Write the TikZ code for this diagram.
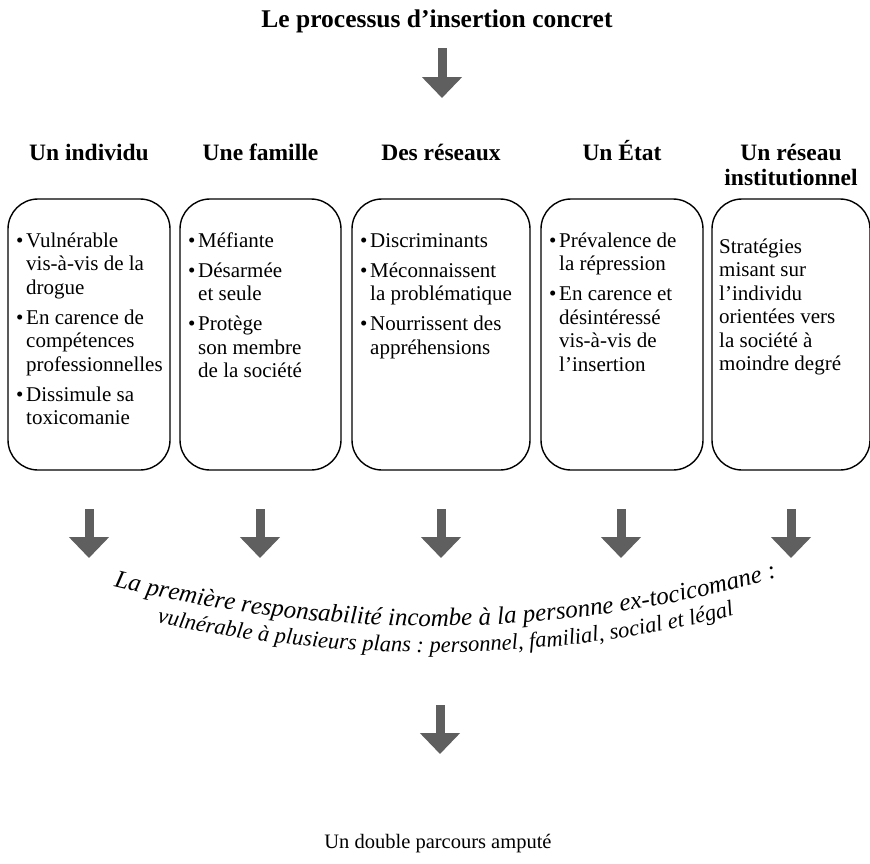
\documentclass[tikz,border=0pt]{standalone}
\usepackage{fontspec}
\setmainfont{Liberation Serif}
\usetikzlibrary{arrows.meta,decorations.text}
\definecolor{arrowgray}{HTML}{5F5F5F}
\newcommand{\bul}{\makebox[10pt][l]{\textbullet}}
\newcommand{\ind}{\hspace*{10pt}}
\tikzset{
  bigarrow/.style={draw=arrowgray, line width=9pt, -{Triangle[width=39pt,length=21pt,fill=arrowgray]}},
  roundbox/.style={draw, line width=1.4pt, rounded corners=30pt, minimum height=271pt, inner sep=0pt},
  boxtext/.style={anchor=north west, align=left, inner sep=0pt, font=\fontsize{21}{23.5}\selectfont},
  header/.style={anchor=base, align=center, inner sep=0pt, font=\bfseries\fontsize{23.5}{25}\selectfont},
}
\begin{document}
\begin{tikzpicture}[x=1pt,y=-1pt]
\useasboundingbox (0,0) rectangle (870,863);

% title
\node[anchor=base, inner sep=0pt, font=\bfseries\fontsize{25.5}{27}\selectfont] (title) at (437,27) {Le processus d’insertion concret};
\coordinate (t0) at (442,48);
\coordinate (t1) at (442,98);
\draw[bigarrow] (t0) -- (t1);

% headers
\node[header] (h1) at (89,160) {Un individu};
\node[header] (h2) at (260.5,160) {Une famille};
\node[header] (h3) at (441,160) {Des réseaux};
\node[header] (h4) at (622,160) {Un État};
\node[header] (h5) at (791,185) {Un réseau\\institutionnel};

% boxes
\node[roundbox, minimum width=162pt] (b1) at (89,334.5) {};
\node[roundbox, minimum width=161pt] (b2) at (260.5,334.5) {};
\node[roundbox, minimum width=178pt] (b3) at (441,334.5) {};
\node[roundbox, minimum width=162pt] (b4) at (622,334.5) {};
\node[roundbox, minimum width=158pt] (b5) at (791,334.5) {};

\node[boxtext] (x1) at (16,232) {\rule{0pt}{15pt}\bul Vulnérable\\ \ind vis-à-vis de la\\ \ind drogue\\[6.5pt]
\bul En carence de\\ \ind compétences\\ \ind professionnelles\\[6.5pt]
\bul Dissimule sa\\ \ind toxicomanie};
\node[boxtext] (x2) at (188,232) {\rule{0pt}{15pt}\bul Méfiante\\[6.5pt]
\bul Désarmée\\ \ind et seule\\[6.5pt]
\bul Protège\\ \ind son membre\\ \ind de la société};
\node[boxtext] (x3) at (360,232) {\rule{0pt}{15pt}\bul Discriminants\\[6.5pt]
\bul Méconnaissent\\ \ind la problématique\\[6.5pt]
\bul Nourrissent des\\ \ind appréhensions};
\node[boxtext] (x4) at (549,232) {\rule{0pt}{15pt}\bul Prévalence de\\ \ind la répression\\[6.5pt]
\bul En carence et\\ \ind désintéressé\\ \ind vis-à-vis de\\ \ind l’insertion};
\node[boxtext] (x5) at (719,238) {\rule{0pt}{15pt}Stratégies\\ misant sur\\ l’individu\\ orientées vers\\ la société à\\ moindre degré};

% arrows row
\foreach \i/\xx in {1/89,2/260,3/441,4/621,5/791}{
  \coordinate (r\i s) at (\xx,509);
  \coordinate (r\i e) at (\xx,558);
  \draw[bigarrow] (r\i s) -- (r\i e);
}

% curved text
\coordinate (c1a) at (88,580);
\coordinate (c1b) at (802,570);
\coordinate (c2a) at (90,607);
\coordinate (c2b) at (800,597);
\path[decorate, decoration={text along path, text align=center,
  text={|\itshape\fontsize{25}{25}\selectfont|La première responsabilité incombe à la personne ex-tocicomane :}}]
  (c1a) .. controls (326,643) and (564,643) .. (c1b);
\path[decorate, decoration={text along path, text align=center,
  text={|\itshape\fontsize{22.5}{24}\selectfont|vulnérable à plusieurs plans : personnel, familial, social et légal}}]
  (c2a) .. controls (327,669) and (563,669) .. (c2b);

% bottom
\coordinate (u0) at (440,705);
\coordinate (u1) at (440,754);
\draw[bigarrow] (u0) -- (u1);
\node[anchor=base, inner sep=0pt, font=\fontsize{20.5}{22}\selectfont] (bottom) at (438,848) {Un double parcours amputé};
\end{tikzpicture}
\end{document}
